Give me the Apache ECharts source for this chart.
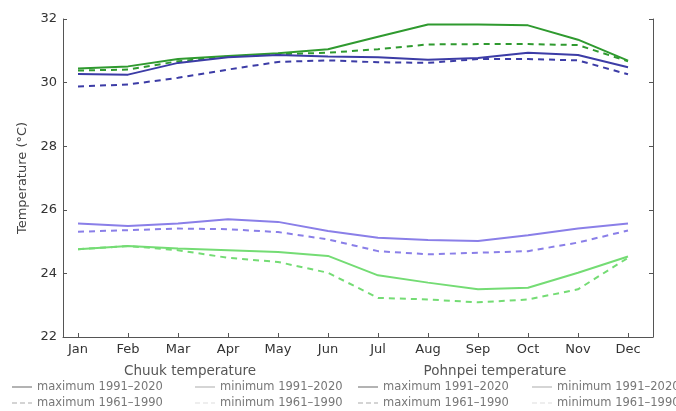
<!DOCTYPE html>
<html>
<head>
<meta charset="utf-8">
<script src="https://cdn.jsdelivr.net/npm/echarts@6/dist/echarts.min.js"></script>
<style>
  html, body { margin: 0; padding: 0; background: #fff; }
  #chart { width: 676px; height: 411px; }
</style>
</head>
<body>
<div id="chart"></div>
<script>
// months along the x axis
var months = ['Jan', 'Feb', 'Mar', 'Apr', 'May', 'Jun', 'Jul', 'Aug', 'Sep', 'Oct', 'Nov', 'Dec'];
var yTicks = [22, 24, 26, 28, 30, 32];

// Chuuk (green)
var chuukMax9120 = [30.44, 30.51, 30.74, 30.84, 30.92, 31.05, 31.44, 31.83, 31.83, 31.8, 31.35, 30.69];
var chuukMax6190 = [30.38, 30.41, 30.67, 30.82, 30.89, 30.94, 31.05, 31.2, 31.21, 31.21, 31.18, 30.67];
var chuukMin9120 = [24.76, 24.86, 24.78, 24.73, 24.67, 24.55, 23.94, 23.71, 23.5, 23.55, 24.02, 24.53];
var chuukMin6190 = [24.76, 24.86, 24.73, 24.49, 24.36, 24.02, 23.23, 23.18, 23.09, 23.18, 23.5, 24.49];

// Pohnpei (blue / purple)
var pohnMax9120 = [30.27, 30.25, 30.62, 30.8, 30.87, 30.82, 30.8, 30.72, 30.77, 30.94, 30.87, 30.48];
var pohnMax6190 = [29.88, 29.94, 30.15, 30.41, 30.65, 30.7, 30.64, 30.62, 30.74, 30.74, 30.7, 30.26];
var pohnMin9120 = [25.57, 25.49, 25.57, 25.7, 25.62, 25.33, 25.12, 25.05, 25.02, 25.2, 25.41, 25.57];
var pohnMin6190 = [25.31, 25.36, 25.41, 25.39, 25.3, 25.07, 24.7, 24.6, 24.65, 24.7, 24.97, 25.35];

var monthIdx = months.map(function (m, i) { return i + 1; });
var font = 'DejaVu Sans';

function pts(arr) {
  return arr.map(function (v, i) { return [i + 1, v]; });
}

function line(name, data, color, dashed) {
  return {
    name: name,
    type: 'line',
    data: pts(data),
    symbol: 'none',
    lineStyle: { color: color, width: 2, type: dashed ? [6, 5] : 'solid' },
    itemStyle: { color: color }
  };
}

var series = [
  line('Chuuk maximum 1991–2020', chuukMax9120, '#2f9a2f', false),
  line('Chuuk maximum 1961–1990', chuukMax6190, '#2f9a2f', true),
  line('Chuuk minimum 1991–2020', chuukMin9120, '#74dc74', false),
  line('Chuuk minimum 1961–1990', chuukMin6190, '#74dc74', true),
  line('Pohnpei maximum 1991–2020', pohnMax9120, '#3c3ca6', false),
  line('Pohnpei maximum 1961–1990', pohnMax6190, '#3c3ca6', true),
  line('Pohnpei minimum 1991–2020', pohnMin9120, '#8a7fe8', false),
  line('Pohnpei minimum 1961–1990', pohnMin6190, '#8a7fe8', true)
];

var solidIcon = 'path://M0,0h20v1h-20z';
var dashIcon = 'path://M0,0h5v1h-5z M8,0h5v1h-5z M16,0h4v1h-4z';

// one legend per entry, so they can sit in two columns per island
function legendItem(name, left, top, color, dashed) {
  return {
    show: true,
    orient: 'horizontal',
    left: left,
    top: top,
    padding: 0,
    itemWidth: 20,
    itemHeight: 1,
    itemGap: 0,
    selectedMode: false,
    textStyle: { fontFamily: font, fontSize: 11.5, color: '#777' },
    formatter: function (n) { return n.replace(/^(Chuuk|Pohnpei) /, ''); },
    data: [{
      name: name,
      icon: dashed ? dashIcon : solidIcon,
      itemStyle: { color: color, borderWidth: 0 }
    }]
  };
}

var legends = [
  legendItem('Chuuk maximum 1991–2020', 12, 381, '#666', false),
  legendItem('Chuuk minimum 1991–2020', 195, 381, '#aaa', false),
  legendItem('Chuuk maximum 1961–1990', 12, 397, '#aaa', true),
  legendItem('Chuuk minimum 1961–1990', 195, 397, '#ddd', true),
  legendItem('Pohnpei maximum 1991–2020', 358, 381, '#666', false),
  legendItem('Pohnpei minimum 1991–2020', 532, 381, '#aaa', false),
  legendItem('Pohnpei maximum 1961–1990', 358, 397, '#aaa', true),
  legendItem('Pohnpei minimum 1961–1990', 532, 397, '#ddd', true)
];

var chart = echarts.init(document.getElementById('chart'), null, { renderer: 'canvas' });

var option = {
  animation: false,
  backgroundColor: '#fff',
  title: [
    { text: 'Chuuk temperature', left: 190, top: 364, textAlign: 'center', padding: 0,
      textStyle: { fontFamily: font, fontSize: 13.5, fontWeight: 'normal', color: '#555' } },
    { text: 'Pohnpei temperature', left: 495, top: 364, textAlign: 'center', padding: 0,
      textStyle: { fontFamily: font, fontSize: 13.5, fontWeight: 'normal', color: '#555' } }
  ],
  legend: legends,
  grid: { left: 63, right: 23, top: 19, bottom: 74, containLabel: false },
  xAxis: {
    type: 'value',
    min: 0.7,
    max: 12.5,
    splitLine: { show: false },
    axisLine: { show: true, lineStyle: { color: '#555', width: 1 } },
    axisTick: { show: true, inside: true, length: 4, customValues: monthIdx, lineStyle: { color: '#555' } },
    axisLabel: {
      customValues: monthIdx,
      formatter: function (v) { return months[Math.round(v) - 1] || ''; },
      fontFamily: font, fontSize: 13, color: '#333', margin: 6
    }
  },
  yAxis: [{
    type: 'value',
    min: 22,
    max: 32,
    interval: 2,
    name: 'Temperature (°C)',
    nameLocation: 'middle',
    nameGap: 27,
    nameTextStyle: { fontFamily: font, fontSize: 13, color: '#444' },
    splitLine: { show: false },
    axisLine: { show: true, lineStyle: { color: '#555', width: 1 } },
    axisTick: { show: true, inside: true, length: 4, lineStyle: { color: '#555' } },
    axisLabel: {
      fontFamily: font, fontSize: 13, color: '#333', margin: 6,
      formatter: function (v) { return yTicks.indexOf(v) >= 0 ? String(v) : ''; }
    }
  }, {
    type: 'value',
    position: 'right',
    min: 22,
    max: 32,
    interval: 2,
    splitLine: { show: false },
    axisLine: { show: true, lineStyle: { color: '#555', width: 1 } },
    axisTick: { show: true, inside: true, length: 4, lineStyle: { color: '#555' } },
    axisLabel: { show: false }
  }],
  series: series
};

chart.setOption(option);
</script>
</body>
</html>
